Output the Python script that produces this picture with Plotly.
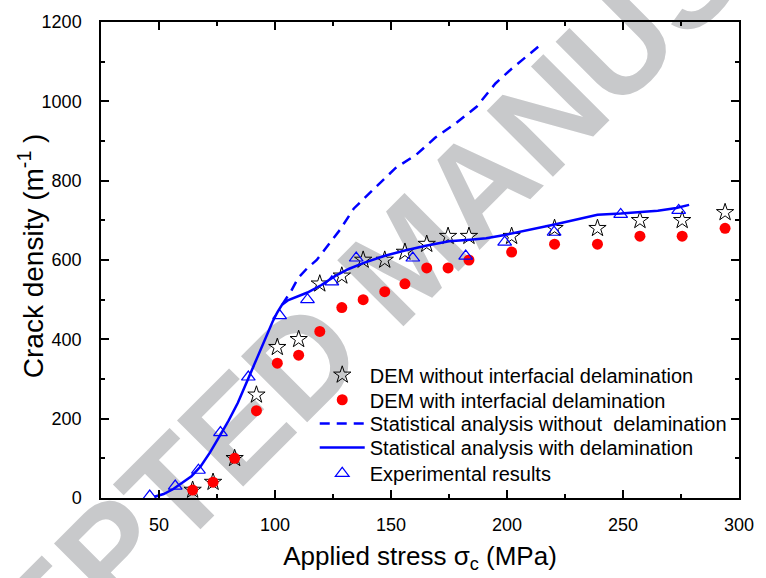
import plotly.graph_objects as go

# ---- data ----
dem_x = [64.5, 73.3, 82.6, 92, 101, 110.2, 119.3, 128.8, 138, 147.3, 156, 165.4, 174.6, 183.6, 202, 220.5, 239, 257.3, 275.5, 294]
dem_no_delam_y = [20, 40, 100, 260, 380, 400, 540, 560, 600, 600, 620, 640, 660, 660, 660, 680, 680, 700, 700, 720]
dem_delam_y = [20, 40, 100, 220, 340, 360, 420, 480, 500, 520, 540, 580, 580, 600, 620, 640, 640, 660, 660, 680]

exp_x = [46, 57, 67, 76.5, 88.5, 102, 114, 124.5, 135, 159.4, 182.2, 199, 220.3, 249, 274]
exp_y = [5, 30, 70, 165, 305, 460, 500, 545, 605, 605, 610, 645, 670, 715, 725]

stat_delam_x = [48, 52, 56, 60, 64, 68, 72, 76, 80, 84, 88, 92, 96, 99, 101, 103, 105.5, 109, 114, 120, 126,
                132, 138, 147, 156, 165, 175, 184, 191, 199, 208, 220, 239, 249, 265, 273, 278.5]
stat_delam_y = [3, 10, 22, 38, 55, 80, 115, 155, 195, 240, 295, 350, 405, 445, 468, 487, 498, 507, 518, 537, 560,
                578, 592, 610, 624, 636, 647, 651, 655, 663, 674, 689, 714, 717, 724, 731, 739]

stat_nodelam_x = [103, 107, 110, 114, 118, 121, 124, 128, 134, 140, 144, 152, 161, 169, 178, 187, 195, 202, 209, 215]
stat_nodelam_y = [487, 522, 555, 580, 600, 622, 645, 676, 730, 765, 787, 832, 866, 908, 945, 987, 1045, 1082, 1116, 1145]

series_names = ["DEM without interfacial delamination",
                "DEM with interfacial delamination",
                "Statistical analysis without  delamination",
                "Statistical analysis with delamination",
                "Experimental results"]

x_range = [25, 300]
y_range = [0, 1200]
x_ticks = [50, 100, 150, 200, 250, 300]
y_ticks = [0, 200, 400, 600, 800, 1000, 1200]

FONT = "Liberation Sans, Arial, sans-serif"

fig = go.Figure()
fig.add_trace(go.Scatter(x=dem_x, y=dem_no_delam_y, mode="markers", name=series_names[0], legend="legend",
                         marker=dict(symbol="star-open", size=13, color="black", line=dict(width=1))))
fig.add_trace(go.Scatter(x=dem_x, y=dem_delam_y, mode="markers", name=series_names[1], legend="legend2",
                         marker=dict(symbol="circle", size=11, color="#ff0000", line=dict(width=0))))
fig.add_trace(go.Scatter(x=stat_nodelam_x, y=stat_nodelam_y, mode="lines", name=series_names[2], legend="legend3",
                         line=dict(color="#0000ff", width=2.5, dash="10px,7px")))
fig.add_trace(go.Scatter(x=stat_delam_x, y=stat_delam_y, mode="lines", name=series_names[3], legend="legend4",
                         line=dict(color="#0000ff", width=2.5)))
fig.add_trace(go.Scatter(x=exp_x, y=exp_y, mode="markers", name=series_names[4], legend="legend5",
                         marker=dict(symbol="triangle-up-open", size=12, color="#0000ff", line=dict(width=1.2))))

# layout geometry
L, R, T, B = 101, 21, 20, 79
W, H = 766, 578
pw, ph = W - L - R, H - T - B

# watermark (behind data)
cx, cy = 400, 247
fig.add_shape(type="line", xref="paper", yref="paper", layer="below",
              x0=(cx - 10 - L) / pw, y0=(H - B - (cy + 10)) / ph,
              x1=(cx + 10 - L) / pw, y1=(H - B - (cy - 10)) / ph,
              line=dict(width=0, color="rgba(0,0,0,0)"),
              label=dict(text="<b>ACCEPTED MANUSCRIPT</b>", textangle=-45, textposition="middle",
                         xanchor="center", yanchor="middle", padding=0,
                         font=dict(family=FONT, size=136, color="#c8c9cb")))

axis_common = dict(showgrid=False, zeroline=False, showline=True, linecolor="black", linewidth=1.5,
                   mirror="ticks", ticks="inside", ticklen=8, tickwidth=1.5, tickcolor="black",
                   tickfont=dict(family=FONT, size=18, color="black"))

fig.update_xaxes(range=x_range, tickmode="array", tickvals=x_ticks,
                 minor=dict(ticks="inside", ticklen=4, tickwidth=1.5, tickcolor="black", dtick=25, tick0=25),
                 title=dict(text="Applied stress σ<sub>c</sub> (MPa)", font=dict(family=FONT, size=26, color="black"),
                            standoff=12),
                 ticklabelstandoff=10, **axis_common)
fig.update_yaxes(range=y_range, tickmode="array", tickvals=y_ticks,
                 minor=dict(ticks="inside", ticklen=4, tickwidth=1.5, tickcolor="black", dtick=100, tick0=0),
                 ticklabelstandoff=14, **axis_common)

# y-axis title placed as a rotated annotation to match the reference position
fig.add_annotation(text="Crack density (m<sup>-1</sup> )", textangle=-90, showarrow=False,
                   xref="paper", yref="paper", x=(30 - L) / pw, y=(H - B - 255) / ph,
                   xanchor="center", yanchor="middle",
                   font=dict(family=FONT, size=28, color="black"))

# one legend box per row so that row spacing matches the reference
row_centers_px = [376, 401, 425, 449, 475]
legends = {}
for i, yc in enumerate(row_centers_px):
    key = "legend" if i == 0 else f"legend{i + 1}"
    top = yc - 20.5
    legends[key] = dict(x=0.335, y=(H - B - top) / ph, xanchor="left", yanchor="top",
                        bgcolor="rgba(0,0,0,0)", borderwidth=0,
                        font=dict(family=FONT, size=20, color="black"), itemwidth=45)

fig.update_layout(
    width=W, height=H,
    margin=dict(l=L, r=R, t=T, b=B),
    paper_bgcolor="white", plot_bgcolor="white",
    font=dict(family=FONT, color="black"),
    showlegend=True,
    **legends,
)

fig.write_html("out.html")
